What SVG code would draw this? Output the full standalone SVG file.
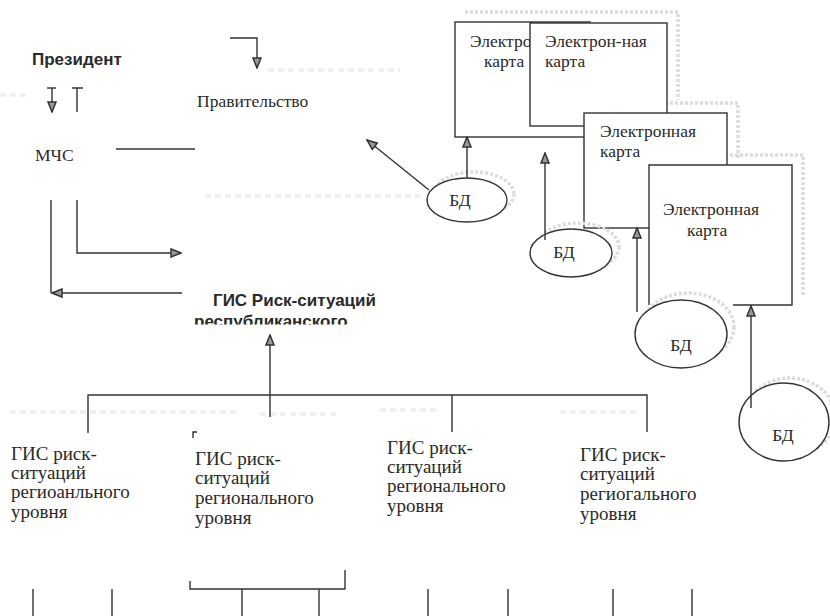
<svg xmlns="http://www.w3.org/2000/svg" width="830" height="616" viewBox="0 0 830 616">
<style>
.ln{fill:none;stroke:#333;stroke-width:1.4}
.bx{fill:#fff;stroke:#333;stroke-width:1.4}
.bf{fill:#fff;stroke:none}
.sh{fill:none;stroke:#dcdcdc;stroke-width:3.5;stroke-dasharray:3 2}
.sm{fill:none;stroke:#f0f0f0;stroke-width:4;stroke-dasharray:6 4}
.sf{font-size:17.5px;fill:#2a2a2a}
.sl{font-size:19px;fill:#2a2a2a}
.bd{font-size:17px;font-weight:bold;fill:#2a2a2a}
</style>
<defs>
<marker id="ah" viewBox="0 0 12 10" refX="11" refY="5" markerWidth="12" markerHeight="10" markerUnits="userSpaceOnUse" orient="auto">
<path d="M1,1 L11,5 L1,9 z" fill="#999" stroke="#333" stroke-width="1.5"/>
</marker>
<clipPath id="c1"><rect x="455" y="22" width="75" height="115"/></clipPath>
<clipPath id="c2"><rect x="180" y="300" width="220" height="24.5"/></clipPath>
</defs>
<rect width="830" height="616" fill="#fff"/>
<g id="smudges">
<path class="sm" d="M268,70 H400"/>
<path class="sm" d="M0,95 H30"/>
<path class="sm" d="M205,196 H420"/>
<path class="sm" d="M10,412 H240 M260,414 H340 M380,410 H440 M560,412 H640"/>
</g>
<g id="shadows">
<path class="sh" d="M465,12 H678 V100"/>
<path class="sh" d="M595,103 H738 V158"/>
<path class="sh" d="M660,155 H803 V295"/>
</g>
<g id="president" font-family="'Liberation Sans', Arial, sans-serif"><text class="bd" x="32" y="65">Президент</text></g>
<g id="government" font-family="'Liberation Serif', 'Times New Roman', serif"><text class="sf" x="197" y="107">Правительство</text></g>
<g id="mchs" font-family="'Liberation Serif', 'Times New Roman', serif"><text class="sf" x="35" y="161">МЧС</text></g>
<g id="gis-rep" font-family="'Liberation Sans', Arial, sans-serif">
<text class="bd" x="213" y="306">ГИС Риск-ситуаций</text>
<text class="bd" x="194" y="327" clip-path="url(#c2)">республиканского</text>
</g>
<g id="map1" font-family="'Liberation Serif', 'Times New Roman', serif">
<rect class="bx" x="455" y="22" width="135" height="115"/>
<text class="sf" x="470" y="47" clip-path="url(#c1)">Электрон</text>
<text class="sf" x="484" y="67">карта</text>
</g>
<g id="map2" font-family="'Liberation Serif', 'Times New Roman', serif">
<rect class="bx" x="530" y="23" width="137" height="103"/>
<text class="sf" x="545" y="47">Электрон-ная</text>
<text class="sf" x="545" y="67">карта</text>
</g>
<g id="map3" font-family="'Liberation Serif', 'Times New Roman', serif">
<rect class="bx" x="584" y="113" width="143" height="115"/>
<text class="sf" x="600" y="137">Электронная</text>
<text class="sf" x="600" y="157">карта</text>
</g>
<g id="map4" font-family="'Liberation Serif', 'Times New Roman', serif">
<rect class="bf" x="649" y="165" width="143" height="140"/>
<path class="ln" d="M733,305 H792 V165 H649 V305"/>
<text class="sf" x="663" y="215">Электронная</text>
<text class="sf" x="687" y="236">карта</text>
</g>
<g id="db1" font-family="'Liberation Serif', 'Times New Roman', serif">
<ellipse class="sh" cx="474" cy="194" rx="40" ry="22"/>
<ellipse class="bx" cx="467" cy="200" rx="40" ry="22"/>
<text class="sf" x="460" y="206" text-anchor="middle">БД</text>
</g>
<g id="db2" font-family="'Liberation Serif', 'Times New Roman', serif">
<ellipse class="sh" cx="578" cy="247" rx="41" ry="24"/>
<ellipse class="bx" cx="571" cy="253" rx="41" ry="24"/>
<text class="sf" x="564" y="258" text-anchor="middle">БД</text>
</g>
<g id="db3" font-family="'Liberation Serif', 'Times New Roman', serif">
<ellipse class="sh" cx="688" cy="327" rx="46" ry="34"/>
<ellipse class="bx" cx="681" cy="334" rx="46" ry="34"/>
<text class="sf" x="681" y="351" text-anchor="middle">БД</text>
</g>
<g id="db4" font-family="'Liberation Serif', 'Times New Roman', serif">
<ellipse class="sh" cx="790" cy="417" rx="45" ry="39"/>
<ellipse class="bx" cx="784" cy="422" rx="45" ry="39"/>
<text class="sf" x="783" y="441" text-anchor="middle">БД</text>
</g>
<g id="gis1" font-family="'Liberation Serif', 'Times New Roman', serif">
<text class="sl" x="11" y="460">ГИС риск-</text>
<text class="sl" x="11" y="479">ситуаций</text>
<text class="sl" x="11" y="498">региоанльного</text>
<text class="sl" x="11" y="518">уровня</text>
</g>
<g id="gis2" font-family="'Liberation Serif', 'Times New Roman', serif">
<text class="sl" x="195" y="465">ГИС риск-</text>
<text class="sl" x="195" y="484">ситуаций</text>
<text class="sl" x="195" y="504">регионального</text>
<text class="sl" x="195" y="524">уровня</text>
</g>
<g id="gis3" font-family="'Liberation Serif', 'Times New Roman', serif">
<text class="sl" x="387" y="454">ГИС риск-</text>
<text class="sl" x="387" y="473">ситуаций</text>
<text class="sl" x="387" y="492">регионального</text>
<text class="sl" x="387" y="512">уровня</text>
</g>
<g id="gis4" font-family="'Liberation Serif', 'Times New Roman', serif">
<text class="sl" x="580" y="461">ГИС риск-</text>
<text class="sl" x="580" y="480">ситуаций</text>
<text class="sl" x="580" y="500">региогального</text>
<text class="sl" x="580" y="520">уровня</text>
</g>
<g id="connectors">
<path class="ln" d="M230,38 H257 V68" marker-end="url(#ah)"/>
<path class="ln" d="M47,88 H56"/>
<path class="ln" d="M52,88 V112" marker-end="url(#ah)"/>
<path class="ln" d="M72,88 H83 M77,88 V112"/>
<path class="ln" d="M116,149 H195"/>
<path class="ln" d="M77,200 V253 H181" marker-end="url(#ah)"/>
<path class="ln" d="M51,200 V293"/>
<path class="ln" d="M182,293 H52" marker-end="url(#ah)"/>
<path class="ln" d="M467,178 V137" marker-end="url(#ah)"/>
<path class="ln" d="M429,190 L367,140" marker-end="url(#ah)"/>
<path class="ln" d="M545,240 V153" marker-end="url(#ah)"/>
<path class="ln" d="M637,312 V228" marker-end="url(#ah)"/>
<path class="ln" d="M751,408 V306" marker-end="url(#ah)"/>
<path class="ln" d="M88,433 V395 H647 V432 M452,395 V432"/>
<path class="ln" d="M270,417 V335" marker-end="url(#ah)"/>
<path class="ln" d="M193,438 V432 H197"/>
<path class="ln" d="M190,581 V589 H345 V570 M242,589 V616 M319,589 V616"/>
<path class="ln" d="M33,589 V616 M112,589 V616 M428,589 V616 M508,589 V616 M613,589 V616 M692,589 V616"/>
</g>
</svg>
